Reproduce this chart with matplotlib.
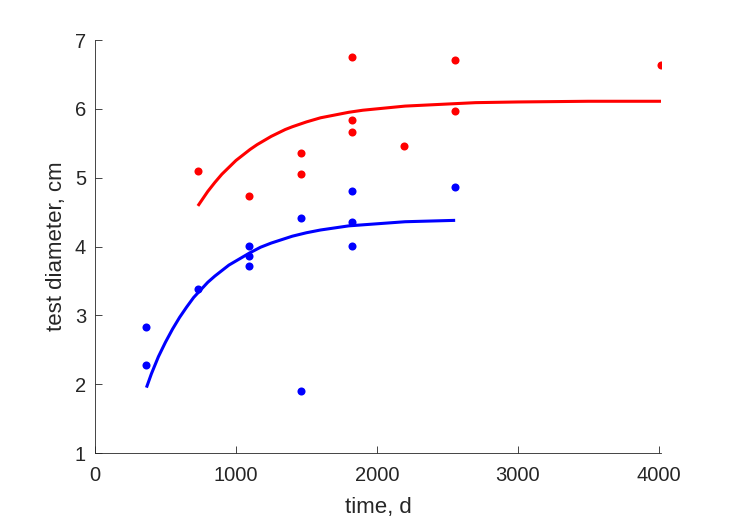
import matplotlib
matplotlib.use("Agg")
import matplotlib.pyplot as plt

plt.rcParams['font.family'] = ['Liberation Sans', 'DejaVu Sans']

# observed test diameters (time in days)
red_t = [730, 1095, 1460, 1460, 1826, 1826, 1826, 2190, 2555, 2555, 4015]
red_d = [5.10, 4.73, 5.36, 5.05, 6.76, 5.84, 5.67, 5.46, 6.71, 5.97, 6.63]

blue_t = [365, 365, 730, 1095, 1095, 1095, 1460, 1460, 1826, 1826, 1826, 2555]
blue_d = [2.83, 2.28, 3.38, 4.01, 3.86, 3.71, 4.42, 1.90, 4.81, 4.35, 4.01, 4.87]

# fitted growth curves
red_fit_t = [730, 760, 800, 850, 900, 950, 1000, 1050, 1100, 1150, 1200, 1250,
             1300, 1350, 1400, 1500, 1600, 1700, 1800, 1900, 2000, 2100, 2200,
             2400, 2700, 3000, 3500, 4015]
red_fit_d = [4.59, 4.68, 4.80, 4.93, 5.05, 5.15, 5.25, 5.33, 5.41, 5.48, 5.54,
             5.60, 5.65, 5.70, 5.74, 5.81, 5.87, 5.91, 5.95, 5.98, 6.00, 6.02,
             6.04, 6.06, 6.09, 6.10, 6.11, 6.11]

blue_fit_t = [365, 400, 450, 500, 550, 600, 650, 700, 750, 800, 850, 900, 950,
              1000, 1100, 1175, 1250, 1325, 1400, 1500, 1600, 1700, 1800, 2000,
              2200, 2555]
blue_fit_d = [1.95, 2.15, 2.40, 2.61, 2.80, 2.97, 3.12, 3.26, 3.37, 3.48, 3.57,
              3.65, 3.73, 3.79, 3.91, 3.99, 4.05, 4.10, 4.15, 4.20, 4.24, 4.27,
              4.30, 4.33, 4.36, 4.38]

fig = plt.figure(figsize=(7.29, 5.21), dpi=100)
ax = fig.add_axes([0.1303, 0.1305, 0.7764, 0.7927])

ax.plot(red_fit_t, red_fit_d, color='red', lw=2.2, solid_capstyle='butt')
ax.plot(blue_fit_t, blue_fit_d, color='blue', lw=2.2, solid_capstyle='butt')
ax.plot(red_t, red_d, 'o', color='red', ms=5.8, mec='none')
ax.plot(blue_t, blue_d, 'o', color='blue', ms=5.8, mec='none')

ax.set_xlim(0, 4015)
ax.set_ylim(1, 7)
ax.set_xticks([0, 1000, 2000, 3000, 4000])
ax.set_yticks([1, 2, 3, 4, 5, 6, 7])

gray = '#262626'
for s in ['top', 'right']:
    ax.spines[s].set_visible(False)
for s in ['left', 'bottom']:
    ax.spines[s].set_color(gray)
    ax.spines[s].set_linewidth(0.6)
ax.tick_params(direction='in', length=5, width=0.6, colors=gray,
               labelsize=14.5)
ax.tick_params(axis='x', pad=9)
ax.tick_params(axis='y', pad=6.5)

ax.set_xlabel('time, d', fontsize=16, color=gray)
ax.set_ylabel('test diameter, cm', fontsize=16, color=gray)
ax.xaxis.set_label_coords(0.5, -0.107)
ax.yaxis.set_label_coords(-0.049, 0.5)

fig.savefig('out.png', dpi=100)
